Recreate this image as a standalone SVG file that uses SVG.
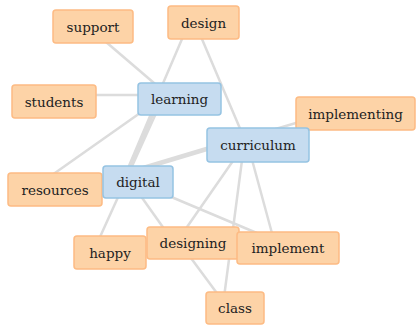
<svg xmlns="http://www.w3.org/2000/svg" width="417" height="325" viewBox="0 0 417 325">
  <style>
    .edge { stroke: #dcdcdc; stroke-width: 2.5; stroke-linecap: round; fill: none; }
    .heavy { stroke-width: 4.5; }
    .node rect { stroke-width: 1.5; }
    .term rect { fill: #fdd3a7; stroke: #fdbb84; }
    .hub rect { fill: #c6dcf0; stroke: #95c3e2; }
    .node text { font-family: "DejaVu Serif", "Liberation Serif", serif; font-size: 13.5px; fill: #222; text-anchor: middle; }
  </style>
  <rect width="417" height="325" fill="#ffffff"/>

  <g id="connectors">
    <line class="edge" x1="92" y1="30" x2="168" y2="95"/>
    <line class="edge" x1="188" y1="25" x2="158" y2="95"/>
    <line class="edge" x1="196" y1="25" x2="247" y2="145"/>
    <line class="edge" x1="60" y1="95" x2="170" y2="95"/>
    <line class="edge" x1="150" y1="106" x2="45" y2="180"/>
    <line class="edge heavy" x1="158" y1="100" x2="125" y2="178"/>
    <line class="edge" x1="162" y1="100" x2="95" y2="248"/>
    <line class="edge heavy" x1="140" y1="169" x2="250" y2="136"/>
    <line class="edge" x1="133" y1="185" x2="172" y2="240"/>
    <line class="edge" x1="150" y1="188" x2="290" y2="247"/>
    <line class="edge" x1="262" y1="133" x2="340" y2="110"/>
    <line class="edge" x1="244" y1="145" x2="178" y2="240"/>
    <line class="edge" x1="244" y1="145" x2="223" y2="305"/>
    <line class="edge" x1="248" y1="145" x2="276" y2="248"/>
    <line class="edge" x1="185" y1="250" x2="222" y2="300"/>
  </g>

  <g id="support" class="node term"><rect x="53" y="10" width="80" height="33" rx="3"/><text x="93" y="31.5">support</text></g>
  <g id="design" class="node term"><rect x="168" y="6" width="71" height="33" rx="3"/><text x="203.5" y="27.5">design</text></g>
  <g id="students" class="node term"><rect x="12" y="85" width="84" height="33" rx="3"/><text x="54" y="106.5">students</text></g>
  <g id="learning" class="node hub"><rect x="138" y="83" width="83" height="32" rx="3"/><text x="179.5" y="104">learning</text></g>
  <g id="implementing" class="node term"><rect x="296" y="97" width="119" height="33" rx="3"/><text x="355.5" y="118.5">implementing</text></g>
  <g id="curriculum" class="node hub"><rect x="207" y="128" width="102" height="34" rx="3"/><text x="258" y="150">curriculum</text></g>
  <g id="resources" class="node term"><rect x="8" y="173" width="94" height="33" rx="3"/><text x="55" y="194.5">resources</text></g>
  <g id="digital" class="node hub"><rect x="103" y="166" width="70" height="32" rx="3"/><text x="138" y="187">digital</text></g>
  <g id="happy" class="node term"><rect x="74" y="236" width="72" height="33" rx="3"/><text x="110" y="257.5">happy</text></g>
  <g id="designing" class="node term"><rect x="147" y="227" width="92" height="32" rx="3"/><text x="193" y="248">designing</text></g>
  <g id="implement" class="node term"><rect x="237" y="232" width="102" height="32" rx="3"/><text x="288" y="253">implement</text></g>
  <g id="class" class="node term"><rect x="206" y="292" width="58" height="32" rx="3"/><text x="235" y="313">class</text></g>
</svg>
